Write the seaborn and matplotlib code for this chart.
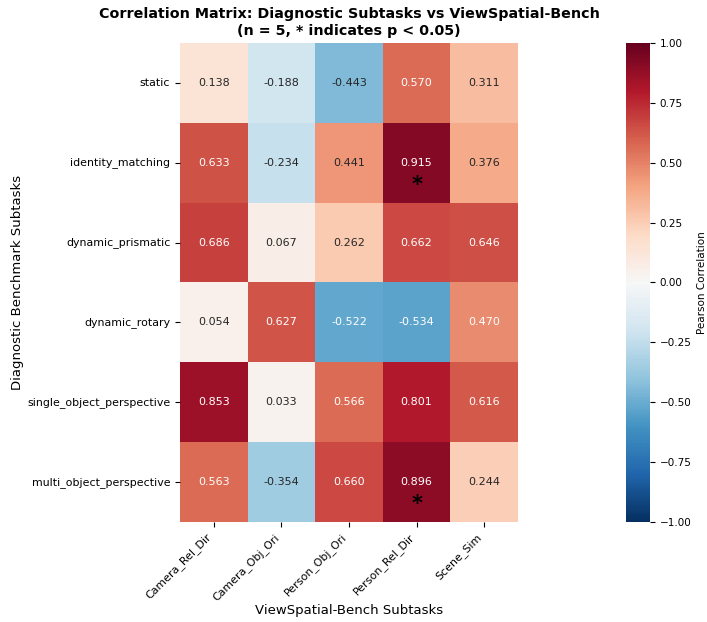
import matplotlib
matplotlib.use("Agg")
import matplotlib.pyplot as plt
import numpy as np
import pandas as pd
import seaborn as sns

row_labels = ["static", "identity_matching", "dynamic_prismatic", "dynamic_rotary",
              "single_object_perspective", "multi_object_perspective"]
col_labels = ["Camera_Rel_Dir", "Camera_Obj_Ori", "Person_Obj_Ori", "Person_Rel_Dir", "Scene_Sim"]

static = [0.138, -0.188, -0.443, 0.570, 0.311]
identity_matching = [0.633, -0.234, 0.441, 0.915, 0.376]
dynamic_prismatic = [0.686, 0.067, 0.262, 0.662, 0.646]
dynamic_rotary = [0.054, 0.627, -0.522, -0.534, 0.470]
single_object_perspective = [0.853, 0.033, 0.566, 0.801, 0.616]
multi_object_perspective = [0.563, -0.354, 0.660, 0.896, 0.244]

# cells with p < 0.05 (row, col)
significant = [("identity_matching", "Person_Rel_Dir"), ("multi_object_perspective", "Person_Rel_Dir")]

corr = pd.DataFrame([static, identity_matching, dynamic_prismatic, dynamic_rotary,
                     single_object_perspective, multi_object_perspective],
                    index=row_labels, columns=col_labels)

fig = plt.figure(figsize=(7.07, 6.22), dpi=100)
ax = fig.add_axes([0.2546, 0.1608, 0.4781, 0.7701])
cax = fig.add_axes([0.8854, 0.1608, 0.034, 0.7701])

sns.heatmap(corr, ax=ax, cbar_ax=cax, cmap="RdBu_r", vmin=-1, vmax=1, center=0,
            annot=True, fmt=".3f", annot_kws={"size": 8},
            cbar_kws={"label": "Pearson Correlation"})

for r, c in significant:
    i = row_labels.index(r)
    j = col_labels.index(c)
    ax.text(j + 0.5, i + 0.78, "*", ha="center", va="center", fontsize=15,
            fontweight="bold", color="black")

ax.set_title("Correlation Matrix: Diagnostic Subtasks vs ViewSpatial-Bench\n(n = 5, * indicates p < 0.05)",
             fontsize=10.3, fontweight="bold", pad=6)
ax.set_xlabel("ViewSpatial-Bench Subtasks", fontsize=9.5, labelpad=1)
ax.set_ylabel("Diagnostic Benchmark Subtasks", fontsize=9.5, labelpad=2)
plt.setp(ax.get_xticklabels(), rotation=45, ha="right", fontsize=7.9)
plt.setp(ax.get_yticklabels(), rotation=0, fontsize=7.9)
cax.tick_params(labelsize=7.5)
cax.yaxis.label.set_size(7.5)

fig.savefig("out.png", dpi=100)
plt.close()
